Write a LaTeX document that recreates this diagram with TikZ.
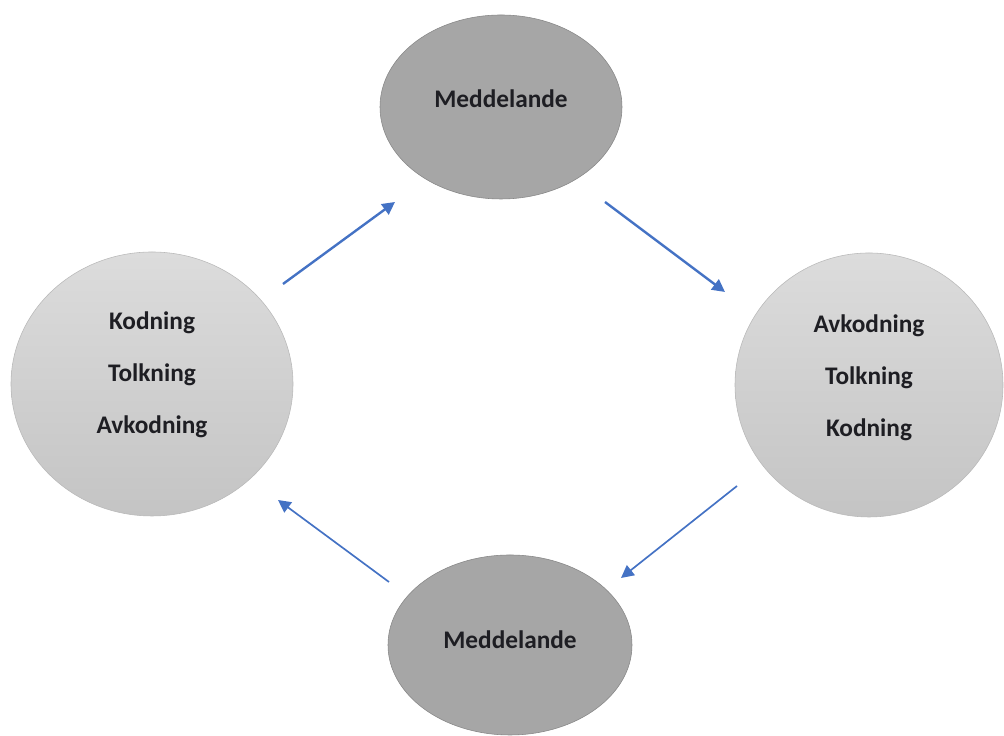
\documentclass[tikz,border=0pt]{standalone}
\usepackage{fontspec}
\setmainfont{Carlito}
\usetikzlibrary{shapes.geometric, arrows.meta}
\definecolor{msgfill}{RGB}{166,166,166}
\definecolor{msgline}{RGB}{135,135,135}
\definecolor{roletop}{RGB}{220,220,220}
\definecolor{rolebot}{RGB}{196,196,196}
\definecolor{roleline}{RGB}{185,185,185}
\definecolor{txtdark}{RGB}{30,30,35}
\definecolor{flowblue}{RGB}{68,114,196}
\tikzset{
  msgnode/.style={ellipse, draw=msgline, fill=msgfill, thin,
    minimum width=6.05cm, minimum height=4.6cm, inner sep=0pt, text depth=0.4cm,
    font=\fontsize{18}{37}\selectfont\bfseries, text=txtdark},
  rolenode/.style={ellipse, draw=roleline, thin, top color=roletop, bottom color=rolebot,
    minimum width=7.0cm, minimum height=6.6cm, inner sep=0pt, align=center, text depth=0.55cm,
    font=\fontsize{18}{37}\selectfont\bfseries, text=txtdark},
  flow/.style={draw=flowblue, line width=1.7pt, -{Triangle[length=9pt, width=9pt]}},
  flowthin/.style={draw=flowblue, line width=1.2pt, -{Triangle[length=9pt, width=9pt]}}
}
\begin{document}
\begin{tikzpicture}
  \useasboundingbox (0,0) rectangle (25.1,18.4);
  \node[msgnode] (msgtop) at (12.525,15.725) {Meddelande};
  \node[msgnode, minimum width=6.1cm, minimum height=4.5cm, text depth=0.25cm] (msgbot) at (12.75,2.275) {Meddelande};
  \node[rolenode, minimum width=7.05cm] (sender) at (3.8,8.8) {Kodning\\Tolkning\\Avkodning};
  \node[rolenode, minimum width=6.7cm, text depth=0.45cm] (receiver) at (21.725,8.775) {Avkodning\\Tolkning\\Kodning};
  \coordinate (s1) at (7.075,11.3);   \coordinate (t1) at (9.875,13.35);
  \coordinate (s2) at (15.125,13.35); \coordinate (t2) at (18.125,11.1);
  \coordinate (s3) at (18.425,6.25);  \coordinate (t3) at (15.525,3.95);
  \coordinate (s4) at (9.725,3.85);   \coordinate (t4) at (6.95,5.9);
  \draw[flow] (s1)--(t1);
  \draw[flow] (s2)--(t2);
  \draw[flowthin] (s3)--(t3);
  \draw[flowthin] (s4)--(t4);
\end{tikzpicture}
\end{document}
